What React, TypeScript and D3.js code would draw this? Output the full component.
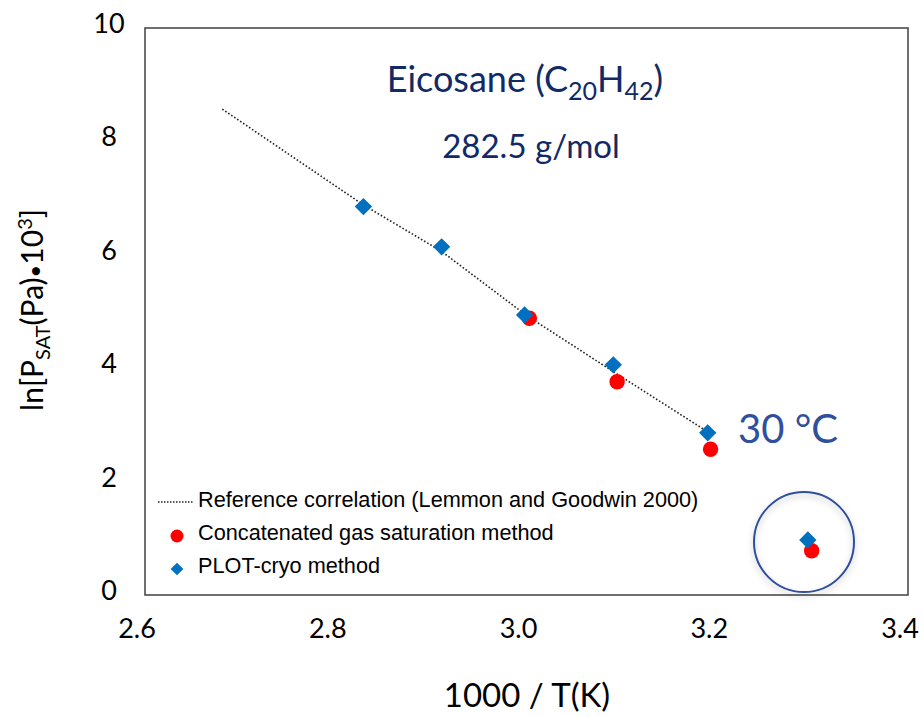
import React from "react";
import * as d3 from "d3";

const xTicks = [2.6, 2.8, 3.0, 3.2, 3.4];
const yTicks = [0, 2, 4, 6, 8, 10];

// Reference correlation (dotted line)
const refX = [2.681, 2.829, 2.911, 3.0, 3.09, 3.187];
const refY = [8.57, 6.88, 6.06, 4.93, 3.95, 2.91];

// Concatenated gas saturation method (red circles)
const gasX = [3.003, 3.095, 3.193, 3.299];
const gasY = [4.88, 3.76, 2.57, 0.78];

// PLOT-cryo method (blue diamonds)
const plotX = [2.829, 2.911, 2.998, 3.091, 3.19, 3.295];
const plotY = [6.85, 6.14, 4.94, 4.06, 2.86, 0.97];

const legendLabels = [
  "Reference correlation (Lemmon and Goodwin 2000)",
  "Concatenated gas saturation method",
  "PLOT-cryo method",
];

const W = 924;
const H = 717;
const calibri = "Lato, 'Open Sans', sans-serif";
const arial = "'Liberation Sans', Arial, sans-serif";

export default function App() {
  const x = d3.scaleLinear().domain([2.6, 3.4]).range([145, 908]);
  const y = d3.scaleLinear().domain([0, 10]).range([595, 28]);

  const line = d3
    .line<number>()
    .x((_, i) => x(refX[i]))
    .y((d) => y(d));

  const diamond = d3.symbol().type(d3.symbolSquare).size(150)();
  const diamondSmall = d3.symbol().type(d3.symbolSquare).size(80)();

  const navy = "#112a66";
  const annBlue = "#2f4f9f";

  return (
    <svg
      width={W}
      height={H}
      style={{ position: "absolute", left: 0, top: 0, background: "#fff" }}
    >
      <defs>
        <filter id="sh" x="-30%" y="-30%" width="160%" height="160%">
          <feDropShadow dx="0" dy="3" stdDeviation="3" floodColor="#000" floodOpacity="0.25" />
        </filter>
      </defs>
      <rect x={0} y={0} width={W} height={H} fill="#fff" />
      {/* plot frame */}
      <rect
        x={x(2.6)}
        y={y(10)}
        width={x(3.4) - x(2.6)}
        height={y(0) - y(10)}
        fill="none"
        stroke="#404040"
        strokeWidth={1.5}
      />
      {/* tick labels */}
      {xTicks.map((t) => (
        <text
          key={"x" + t}
          x={x(t) - 8}
          y={638}
          textAnchor="middle"
          fontFamily={calibri}
          fontSize={27}
          fill="#000"
        >
          {t.toFixed(1)}
        </text>
      ))}
      {yTicks.map((t) => (
        <text
          key={"y" + t}
          x={109}
          y={y(t) + 5}
          textAnchor="middle"
          fontFamily={calibri}
          fontSize={27}
          fill="#000"
        >
          {t}
        </text>
      ))}
      {/* axis titles */}
      <text
        x={527}
        y={707}
        textAnchor="middle"
        fontFamily={calibri}
        fontSize={33}
        fill="#000"
      >
        1000 / T(K)
      </text>
      <text
        transform="translate(43,310) rotate(-90)"
        textAnchor="middle"
        fontFamily={calibri}
        fontSize={30}
        fill="#000"
      >
        ln[P
        <tspan fontSize={20} dy={7}>SAT</tspan>
        <tspan dy={-7}>(Pa)</tspan>
        <tspan fontSize={22}>•</tspan>
        <tspan>10</tspan>
        <tspan fontSize={20} dy={-11}>3</tspan>
        <tspan dy={11}>]</tspan>
      </text>
      {/* reference line */}
      <path
        d={line(refY) || ""}
        fill="none"
        stroke="#222"
        strokeWidth={1.6}
        strokeDasharray="1.6 2"
      />
      {/* red circles */}
      {gasX.map((v, i) => (
        <circle key={"g" + i} cx={x(v)} cy={y(gasY[i])} r={7.7} fill="#ff0000" />
      ))}
      {/* blue diamonds */}
      {plotX.map((v, i) => (
        <path
          key={"p" + i}
          d={diamond}
          transform={`translate(${x(v)},${y(plotY[i])}) rotate(45)`}
          fill="#0070c0"
        />
      ))}
      {/* annotation circle */}
      <circle
        cx={804}
        cy={542}
        r={50}
        fill="none"
        stroke={annBlue}
        strokeWidth={2}
        filter="url(#sh)"
      />
      <text x={738} y={443} fontFamily={calibri} fontSize={40} fill={annBlue}>
        30 °C
      </text>
      {/* title */}
      <text
        x={525}
        y={92}
        textAnchor="middle"
        fontFamily={calibri}
        fontSize={36}
        fill={navy}
      >
        Eicosane (C
        <tspan fontSize={25} dy={8}>20</tspan>
        <tspan dy={-8}>H</tspan>
        <tspan fontSize={25} dy={8}>42</tspan>
        <tspan dy={-8}>)</tspan>
      </text>
      <text
        x={531}
        y={158}
        textAnchor="middle"
        fontFamily={calibri}
        fontSize={33}
        fill={navy}
      >
        282.5 g/mol
      </text>
      {/* legend */}
      <line
        x1={158}
        x2={193}
        y1={502}
        y2={502}
        stroke="#222"
        strokeWidth={1.5}
        strokeDasharray="1.5 1.5"
      />
      <circle cx={177} cy={536} r={6.5} fill="#ff0000" />
      <path d={diamondSmall} transform="translate(177,569) rotate(45)" fill="#0070c0" />
      {legendLabels.map((l, i) => (
        <text
          key={l}
          x={198}
          y={507 + i * 33}
          fontFamily={arial}
          fontSize={21.7}
          fill="#000"
        >
          {l}
        </text>
      ))}
    </svg>
  );
}
